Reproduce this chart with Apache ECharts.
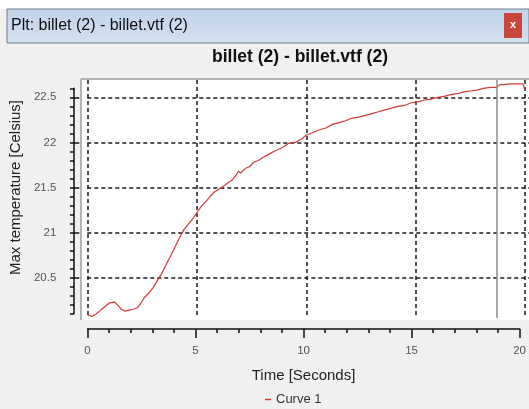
<!DOCTYPE html>
<html><head><meta charset="utf-8">
<script src="https://cdn.jsdelivr.net/npm/echarts@6/dist/echarts.min.js"></script>
<style>html,body{margin:0;padding:0;background:#f0f0f0;overflow:hidden}#c{width:529px;height:409px}</style>
</head><body><div id="c"></div><script>
const windowTitle = 'Plt: billet (2) - billet.vtf (2)';
const chartTitle = 'billet (2) - billet.vtf (2)';
const xName = 'Time [Seconds]';
const yName = 'Max temperature [Celsius]';
const seriesName = 'Curve 1';
const timeSec = [0, 0.2, 0.4, 0.6, 0.8, 1.0, 1.25, 1.4, 1.55, 1.7, 1.9, 2.1, 2.3, 2.45, 2.6, 2.8, 3.0, 3.2, 3.4, 3.6, 3.8, 4.0, 4.2, 4.4, 4.6, 4.8, 5.0, 5.2, 5.4, 5.6, 5.8, 6.0, 6.2, 6.4, 6.6, 6.8, 6.9, 7.0, 7.2, 7.4, 7.6, 7.8, 8.0, 8.3, 8.6, 8.9, 9.2, 9.5, 9.8, 10.0, 10.3, 10.6, 10.9, 11.2, 11.5, 11.8, 12.1, 12.4, 12.7, 13.0, 13.3, 13.6, 13.9, 14.2, 14.5, 14.8, 15.1, 15.4, 15.7, 16.0, 16.3, 16.6, 16.9, 17.2, 17.5, 17.8, 18.1, 18.4, 18.7, 18.85, 19.0, 19.3, 19.6, 19.9, 20.0];
const maxTemp = [20.09, 20.07, 20.10, 20.14, 20.18, 20.22, 20.23, 20.19, 20.15, 20.13, 20.14, 20.15, 20.17, 20.22, 20.28, 20.33, 20.39, 20.47, 20.55, 20.65, 20.74, 20.84, 20.94, 21.03, 21.09, 21.15, 21.22, 21.29, 21.34, 21.40, 21.45, 21.48, 21.51, 21.55, 21.58, 21.64, 21.68, 21.66, 21.71, 21.73, 21.78, 21.80, 21.83, 21.87, 21.91, 21.94, 21.99, 22.00, 22.04, 22.08, 22.11, 22.14, 22.16, 22.20, 22.22, 22.24, 22.27, 22.28, 22.30, 22.32, 22.34, 22.36, 22.38, 22.40, 22.41, 22.44, 22.45, 22.47, 22.48, 22.50, 22.51, 22.53, 22.54, 22.56, 22.57, 22.58, 22.60, 22.61, 22.61, 22.64, 22.64, 22.65, 22.65, 22.65, 22.58];
const cursorTime = [18.7];
const xRange = [0, 20];
const xMajor = 5;
const yMajorRange = [20.5, 22.5];
const yMajor = 0.5;
const yMinorRange = [20.1, 22.6];
const yMinor = 0.1;
const yPlotRange = [20.053, 22.692];

const points = timeSec.map((t, i) => [t, maxTemp[i]]);
const F = 'Liberation Sans, Arial, sans-serif';
const black = '#111';
const chart = echarts.init(document.getElementById('c'), null, {renderer: 'canvas'});
chart.setOption({
  animation: false,
  backgroundColor: '#f0f0f0',
  textStyle: {fontFamily: F},
  title: {text: chartTitle, left: 212, top: 48, padding: 0,
    textStyle: {fontSize: 17.5, fontWeight: 'bold', color: '#111', fontFamily: F}},
  legend: {data: [{name: seriesName, icon: 'rect'}], left: 265, top: 393, padding: 0,
    itemWidth: 6, itemHeight: 1.5, textStyle: {fontSize: 13, color: '#333', fontFamily: F}},
  graphic: [
    {type: 'rect', z: -10, shape: {x: 0, y: 0, width: 529, height: 9}, style: {fill: '#ffffff'}},
    {type: 'rect', z: -10, shape: {x: 7, y: 9, width: 522, height: 34},
      style: {fill: new echarts.graphic.LinearGradient(0, 0, 0, 1, [{offset: 0, color: '#c2d4ea'}, {offset: 1, color: '#d3e0ef'}]), stroke: '#707c8a', lineWidth: 1}},
    {type: 'rect', z: -9, shape: {x: 504, y: 13, width: 18, height: 25}, style: {fill: '#c9463f'}},
    {type: 'text', z: -8, x: 513, y: 25, style: {text: 'x', fill: '#fff', font: 'bold 11px ' + F, textAlign: 'center', textVerticalAlign: 'middle'}},
    {type: 'text', z: -8, x: 11, y: 26, style: {text: windowTitle, fill: '#111', font: '16px ' + F, textVerticalAlign: 'middle'}},
    {type: 'rect', z: -10, shape: {x: 81, y: 79, width: 448, height: 241}, style: {fill: '#ffffff'}},
    {type: 'line', z: -9, shape: {x1: 81, y1: 79, x2: 529, y2: 79}, style: {stroke: '#b4b4b4', lineWidth: 2}},
    {type: 'line', z: -9, shape: {x1: 81, y1: 79, x2: 81, y2: 320}, style: {stroke: '#b4b4b4', lineWidth: 2}}
  ],
  grid: [
    {left: 87.5, right: 4, top: 80, bottom: 91},
    {left: 82, right: 0, top: 97.3, bottom: 131.3},
    {left: 87.5, right: 4, top: 88.3, bottom: 95.2},
    {left: 87.5, right: 4, top: 328, height: 1}
  ],
  xAxis: [
    {gridIndex: 0, type: 'value', min: xRange[0], max: xRange[1], interval: xMajor,
      axisLine: {show: false, onZero: false}, axisTick: {show: false}, axisLabel: {show: false},
      splitLine: {show: true, lineStyle: {color: '#1a1a1a', width: 1.5, type: [4, 3]}}},
    {gridIndex: 1, type: 'value', show: false, min: 0, max: 1, axisLine: {onZero: false}},
    {gridIndex: 2, type: 'value', show: false, min: 0, max: 1, axisLine: {onZero: false}},
    {gridIndex: 3, type: 'value', position: 'bottom', min: xRange[0], max: xRange[1], interval: xMajor,
      axisLine: {show: true, onZero: false, lineStyle: {color: black, width: 1.5}},
      axisTick: {show: true, length: 9, lineStyle: {color: black, width: 1.5}},
      minorTick: {show: true, splitNumber: 5, length: 4, lineStyle: {color: black, width: 1.5}},
      axisLabel: {margin: 16, fontSize: 11.5, color: '#555', fontFamily: F},
      splitLine: {show: false},
      name: xName, nameLocation: 'middle', nameGap: 39,
      nameTextStyle: {fontSize: 15, color: '#222', fontFamily: F}}
  ],
  yAxis: [
    {gridIndex: 0, type: 'value', min: yPlotRange[0], max: yPlotRange[1], show: false, splitLine: {show: false}, axisLine: {onZero: false}},
    {gridIndex: 1, type: 'value', min: yMajorRange[0], max: yMajorRange[1], interval: yMajor, offset: 8,
      axisLine: {show: false, onZero: false},
      axisTick: {show: true, length: 9, lineStyle: {color: black, width: 1.5}},
      axisLabel: {margin: 23, fontSize: 11.5, color: '#555', fontFamily: F},
      splitLine: {show: true, lineStyle: {color: '#1a1a1a', width: 1.5, type: [4, 3]}},
      name: yName, nameLocation: 'middle', nameGap: 47,
      nameTextStyle: {fontSize: 15, color: '#222', fontFamily: F}},
    {gridIndex: 2, type: 'value', min: yMinorRange[0], max: yMinorRange[1], interval: yMinor, offset: 13.5,
      axisLine: {show: true, onZero: false, lineStyle: {color: black, width: 1.5}},
      axisTick: {show: true, length: 4, lineStyle: {color: black, width: 1.5}},
      axisLabel: {show: false}, splitLine: {show: false}},
    {gridIndex: 3, type: 'value', show: false, min: 0, max: 1, axisLine: {onZero: false}}
  ],
  series: [{
    name: seriesName, type: 'line', xAxisIndex: 0, yAxisIndex: 0,
    data: points, showSymbol: false, symbol: 'none',
    lineStyle: {color: '#d13a3a', width: 1.2}, itemStyle: {color: '#d13a3a'},
    markLine: {silent: true, symbol: 'none', label: {show: false},
      lineStyle: {color: '#8c8c8c', type: 'solid', width: 1.5},
      data: cursorTime.map(t => ({xAxis: t}))}
  }]
});
</script></body></html>
